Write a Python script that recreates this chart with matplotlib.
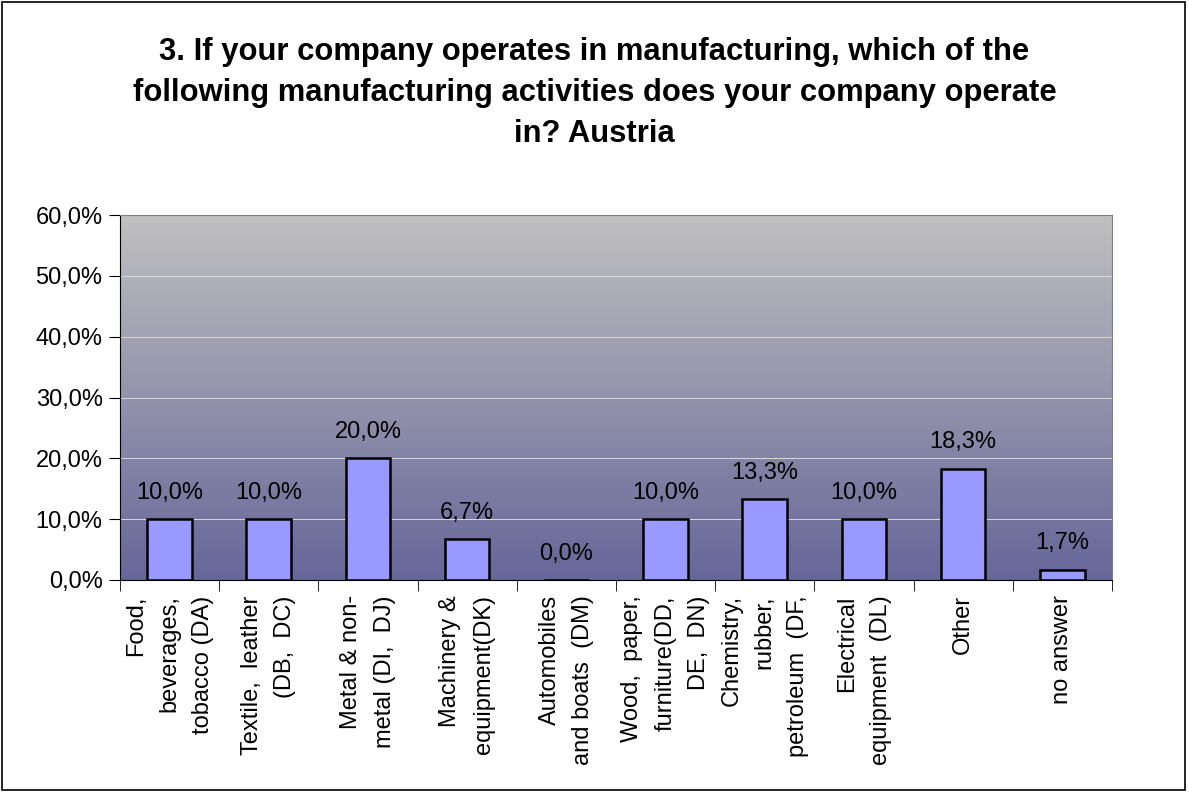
import numpy as np
import matplotlib
matplotlib.use("Agg")
import matplotlib.pyplot as plt
from matplotlib.patches import Rectangle
from matplotlib.ticker import FuncFormatter

plt.rcParams['font.family'] = ['Liberation Sans', 'DejaVu Sans']

# Datos del gráfico
categorias = [
    "Food,\nbeverages,\ntobacco (DA)",
    "Textile,  leather\n(DB,  DC)",
    "Metal & non-\nmetal (DI,  DJ)",
    "Machinery &\nequipment(DK)",
    "Automobiles\nand boats  (DM)",
    "Wood,  paper,\nfurniture(DD,\nDE,  DN)",
    "Chemistry,\nrubber,\npetroleum  (DF,",
    "Electrical\nequipment  (DL)",
    "Other",
    "no answer",
]
valores = [10.0, 10.0, 20.0, 6.7, 0.0, 10.0, 13.3, 10.0, 18.3, 1.7]
titulo = ("3. If your company operates in manufacturing, which of the\n"
          "following manufacturing activities does your company operate\n"
          "in? Austria")

fig = plt.figure(figsize=(11.89, 7.92), dpi=100)
ax = fig.add_axes([0.1009, 0.2677, 0.8343, 0.4608])

x = np.arange(len(valores))
ax.set_xlim(-0.5, len(valores) - 0.5)
ax.set_ylim(0, 60)

# Fondo degradado (gris arriba, azul oscuro abajo)
top = np.array([192, 192, 192]) / 255
bot = np.array([102, 102, 153]) / 255
t = np.linspace(0, 1, 256)[:, None]
grad = (top * (1 - t) + bot * t)[:, None, :]
ax.imshow(grad, extent=[-0.5, len(valores) - 0.5, 0, 60], aspect='auto',
          origin='upper', zorder=0)

for yv in range(10, 70, 10):
    ax.axhline(yv, color='#d8d8d8', lw=0.7, zorder=1)

ax.bar(x, valores, width=0.45, color='#9999ff', edgecolor='black',
       linewidth=1.8, zorder=2)

for xi, v in zip(x, valores):
    ax.text(xi, v + 2.5, f"{v:.1f}%".replace('.', ','), ha='center',
            va='bottom', fontsize=17, color='black', zorder=3)

ax.yaxis.set_major_formatter(FuncFormatter(lambda v, p: f"{v:.1f}%".replace('.', ',')))
ax.set_yticks(range(0, 70, 10))
ax.tick_params(axis='y', labelsize=17, length=8, direction='out', pad=4.5)

ax.set_xticks(x)
ax.set_xticklabels(categorias, rotation=90, ha='center', va='top',
                   multialignment='right', fontsize=17, linespacing=1.67)
ax.set_xticks(np.arange(-0.5, len(valores), 1), minor=True)
ax.tick_params(axis='x', which='major', length=0, pad=11)
ax.tick_params(axis='x', which='minor', length=8, direction='out')

ax.spines['left'].set_color('black')
ax.spines['bottom'].set_color('black')
ax.spines['top'].set_color('#808080')
ax.spines['right'].set_color('#808080')

fig.text(0.5, 1 - 37 / 792, titulo, ha='center', va='top', fontsize=22.3,
         fontweight='bold', linespacing=1.47)

fig.patches.append(Rectangle((0.002, 0.002), 0.995, 0.995, transform=fig.transFigure,
                             fill=False, edgecolor='black', lw=1.2))

fig.savefig("out.png", dpi=100, facecolor='white')
